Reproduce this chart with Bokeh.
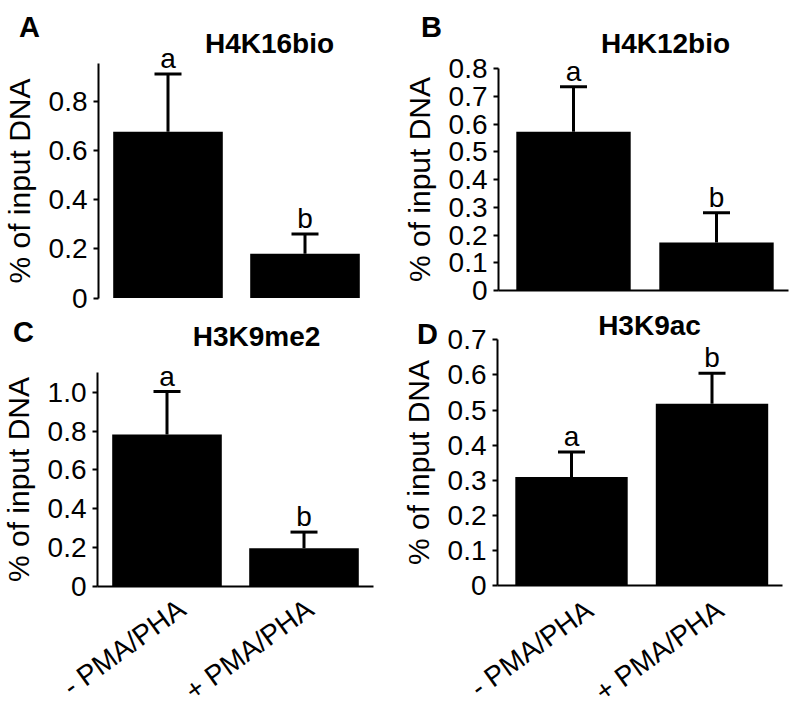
from bokeh.plotting import figure
from bokeh.models import (ColumnDataSource, Whisker, TeeHead, LabelSet, Label,
                          FixedTicker, Range1d)
from bokeh.layouts import row, column
from bokeh.core.properties import value
from bokeh.embed import file_html
from bokeh.resources import INLINE

# ---------------- data ----------------
conditions = ["- PMA/PHA", "+ PMA/PHA"]
positions = [1, 2]

h4k16bio_mean = [0.675, 0.18]
h4k16bio_err = [0.235, 0.08]
h4k16bio_sig = ["a", "b"]

h4k12bio_mean = [0.572, 0.173]
h4k12bio_err = [0.162, 0.107]
h4k12bio_sig = ["a", "b"]

h3k9me2_mean = [0.782, 0.197]
h3k9me2_err = [0.221, 0.083]
h3k9me2_sig = ["a", "b"]

h3k9ac_mean = [0.309, 0.518]
h3k9ac_err = [0.071, 0.087]
h3k9ac_sig = ["a", "b"]

ticks_a = [0, 0.2, 0.4, 0.6, 0.8]
tick_labels_a = ["0", "0.2", "0.4", "0.6", "0.8"]
ticks_b = [0, 0.1, 0.2, 0.3, 0.4, 0.5, 0.6, 0.7, 0.8]
tick_labels_b = ["0", "0.1", "0.2", "0.3", "0.4", "0.5", "0.6", "0.7", "0.8"]
ticks_c = [0, 0.2, 0.4, 0.6, 0.8, 1.0]
tick_labels_c = ["0", "0.2", "0.4", "0.6", "0.8", "1.0"]
ticks_d = [0, 0.1, 0.2, 0.3, 0.4, 0.5, 0.6, 0.7]
tick_labels_d = ["0", "0.1", "0.2", "0.3", "0.4", "0.5", "0.6", "0.7"]

FONT = "Liberation Sans"


def panel(letter, title, means, errs, sig, ticks, tick_labels, geom):
    # geom: figure origin/size on page plus pixel scale of the plotting area
    ox, oy, w, h = geom["box"]
    sx, cx1 = geom["sx"], geom["cx1"]
    sy, zy = geom["sy"], geom["zy"]
    x0 = 1 - (cx1 - ox) / sx
    x1 = x0 + w / sx
    y0 = -(oy + h - zy) / sy
    y1 = (zy - oy) / sy
    axis_x = x0 + (geom["ax"] - ox) / sx

    p = figure(width=w, height=h, x_range=Range1d(x0, x1),
               y_range=Range1d(y0, y1), output_backend="svg",
               toolbar_location=None, min_border=0)
    p.title.visible = False
    p.outline_line_color = None
    p.xgrid.visible = False
    p.ygrid.visible = False
    p.background_fill_color = "white"
    p.border_fill_color = "white"

    src = ColumnDataSource(dict(x=positions, top=means,
                                upper=[m + e for m, e in zip(means, errs)],
                                sig=sig, cond=conditions, zero=[0, 0],
                                dx=geom.get("label_dx", [0, 0])))
    p.add_layout(Whisker(base="x", upper="upper", lower="top", source=src,
                         dimension="height", line_width=3, line_color="black",
                         upper_head=TeeHead(size=27, line_width=3, line_color="black"),
                         lower_head=None))
    p.vbar(x="x", top="top", width=0.8, source=src, fill_color="black",
           line_color=None)

    p.add_layout(LabelSet(x="x", y="upper", text="sig", source=src,
                          y_offset=6, text_align="center",
                          text_baseline="alphabetic",
                          text_font=value(FONT), text_font_size="28px",
                          text_color="black"))

    # y axis drawn at a fixed place inside the canvas
    ya = p.yaxis[0]
    ya.fixed_location = axis_x
    ya.bounds = (0, geom["ytop"])
    ya.ticker = FixedTicker(ticks=ticks)
    ya.major_label_overrides = {t: l for t, l in zip(ticks, tick_labels)}
    ya.minor_tick_line_color = None
    ya.major_tick_in = 0
    ya.major_tick_out = 5
    ya.major_tick_line_width = 2
    ya.axis_line_width = 2
    ya.major_label_standoff = 6
    ya.major_label_text_font = FONT
    ya.major_label_text_font_size = "28px"
    ya.major_label_text_color = "black"
    ya.axis_label = "% of input DNA"
    ya.axis_label_text_font = FONT
    ya.axis_label_text_font_size = "30px"
    ya.axis_label_text_font_style = "normal"
    ya.axis_label_text_color = "black"
    ya.axis_label_standoff = 10

    xa = p.xaxis[0]
    if geom.get("xend") is not None:
        xa.fixed_location = 0
        xa.bounds = (axis_x, x0 + (geom["xend"] - ox) / sx)
        xa.ticker = FixedTicker(ticks=[])
        xa.axis_line_width = 2
        xa.major_tick_in = 0
        xa.major_tick_out = 0
        xa.minor_tick_line_color = None
        xa.major_label_text_font_size = "0px"
    else:
        xa.visible = False

    if geom.get("xlabels"):
        p.add_layout(LabelSet(x="x", y="zero", text="cond", source=src,
                              x_offset="dx", y_offset=geom["label_dy"],
                              angle=0.628,
                              text_align="right", text_baseline="middle",
                              text_font=value(FONT), text_font_size="28px",
                              text_color="black"))

    tx, ty = geom["title"]
    p.add_layout(Label(x=tx - ox, y=oy + h - ty, x_units="screen",
                       y_units="screen", text=title, text_font=FONT,
                       text_font_style="bold", text_font_size="28px",
                       text_align="center", text_baseline="middle",
                       text_color="black"))
    lx, ly = geom["letter"]
    p.add_layout(Label(x=lx - ox, y=oy + h - ly, x_units="screen",
                       y_units="screen", text=letter, text_font=FONT,
                       text_font_style="bold", text_font_size="29px",
                       text_align="center", text_baseline="middle",
                       text_color="black"))
    return p


geom_a = dict(box=(0, 0, 400, 314), sx=137, cx1=167.5, sy=246.25, zy=297.5,
              ax=98, ytop=0.954, xend=None, xlabels=False,
              title=(269, 43), letter=(29, 26))
geom_b = dict(box=(400, 0, 400, 307), sx=143, cx1=573, sy=277.5, zy=290,
              ax=498, ytop=0.8, xend=788, xlabels=False,
              title=(665, 43), letter=(431, 26))
geom_c = dict(box=(0, 314, 400, 396), sx=137, cx1=166.5, sy=194.3, zy=586,
              ax=97, ytop=1.103, xend=373, xlabels=True,
              label_dx=[15, 6], label_dy=-19,
              title=(256, 336), letter=(23, 331))
geom_d = dict(box=(400, 307, 400, 403), sx=140.5, cx1=571, sy=351, zy=585,
              ax=497, ytop=0.7, xend=782, xlabels=True,
              label_dx=[18, 8], label_dy=-21,
              title=(649, 325), letter=(427, 333))

pA = panel("A", "H4K16bio", h4k16bio_mean, h4k16bio_err, h4k16bio_sig,
           ticks_a, tick_labels_a, geom_a)
pB = panel("B", "H4K12bio", h4k12bio_mean, h4k12bio_err, h4k12bio_sig,
           ticks_b, tick_labels_b, geom_b)
pC = panel("C", "H3K9me2", h3k9me2_mean, h3k9me2_err, h3k9me2_sig,
           ticks_c, tick_labels_c, geom_c)
pD = panel("D", "H3K9ac", h3k9ac_mean, h3k9ac_err, h3k9ac_sig,
           ticks_d, tick_labels_d, geom_d)

layout = row(column(pA, pC), column(pB, pD))
open("out.html", "w").write(file_html(layout, INLINE))
